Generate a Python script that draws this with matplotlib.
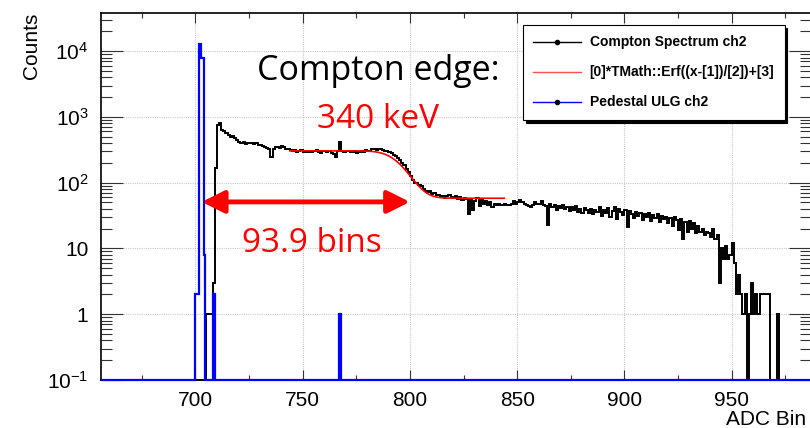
import math
import numpy as np
import matplotlib
matplotlib.use('Agg')
import matplotlib.pyplot as plt
from matplotlib.lines import Line2D
from matplotlib.ticker import FixedLocator, MultipleLocator, LogLocator, NullFormatter

plt.rcParams['font.family'] = ['Liberation Sans', 'DejaVu Sans']

# histogram range (ADC bins)
hist_range = (656, 987)

# Compton Spectrum ch2: counts per ADC bin, first bin = 705
compton_first_bin = 705
compton_counts = [
    1, 1, 1, 3, 170, 760, 800, 640, 600, 560,
    530, 500, 510, 470, 450, 420, 400, 410, 390, 400,
    395, 405, 390, 400, 380, 370, 360, 350, 340, 330,
    245, 330, 350, 345, 340, 355, 350, 320, 330, 310,
    300, 310, 295, 300, 310, 290, 300, 295, 305, 290,
    300, 310, 295, 280, 300, 305, 290, 300, 285, 270,
    250, 300, 410, 300, 295, 305, 300, 290, 295, 300,
    285, 290, 300, 295, 310, 300, 305, 330, 320, 310,
    325, 320, 315, 305, 300, 290, 280, 265, 255, 240,
    225, 200, 185, 160, 145, 125, 110, 100, 98, 92,
    88, 80, 76, 72, 75, 68, 70, 64, 66, 60,
    63, 58, 62, 65, 60, 58, 62, 57, 60, 55,
    58, 56, 33, 55, 38, 52, 58, 44, 56, 48,
    52, 45, 50, 42, 48, 46, 47, 45, 46, 48,
    45, 46, 47, 52, 48, 50, 54, 50, 47, 45,
    44, 42, 45, 50, 48, 47, 52, 46, 44, 23,
    47, 42, 45, 39, 44, 41, 46, 40, 43, 37,
    42, 39, 44, 36, 40, 34, 41, 38, 35, 40,
    33, 38, 36, 42, 31, 39, 35, 41, 30, 37,
    43, 28, 40, 36, 32, 38, 21, 37, 33, 29,
    36, 31, 35, 27, 33, 30, 34, 26, 32, 29,
    33, 25, 31, 28, 30, 24, 29, 22, 30, 27,
    19, 28, 14, 25, 18, 26, 20, 24, 17, 22,
    18, 20, 16, 18, 17, 15, 20, 14, 16, 3,
    10, 7, 11, 7, 8, 12, 6, 2, 4, 2,
    1, 2, 0, 1, 3, 1, 2, 1, 2, 2,
    2, 2, 2, 0, 0, 0, 1,
]

# Pedestal ULG ch2 (variable bin edges)
pedestal_edges = [hist_range[0], 700, 701.5, 702.8, 703.9, 704.5, 708.1, 709.0, 766.9, 768.1, hist_range[1]]
pedestal_counts = [0, 2, 13000, 7900, 8, 0, 2, 0, 1, 0]

# fit [0]*TMath::Erf((x-[1])/[2])+[3]
fit_par = [-123.5, 796.0, 10.0, 181.5]
fit_range = (744, 844)

x_ticks = [700, 750, 800, 850, 900, 950]
y_ticks = [0.1, 1, 10, 100, 1000, 10000]
y_tick_labels = [r'$\mathregular{10^{-1}}$', '1', '10',
                 r'$\mathregular{10^{2}}$', r'$\mathregular{10^{3}}$', r'$\mathregular{10^{4}}$']
y_range = (0.1, 3.8e4)

legend_labels = ['Compton Spectrum ch2', '[0]*TMath::Erf((x-[1])/[2])+[3]', 'Pedestal ULG ch2']

fig = plt.figure(figsize=(8.1, 4.28), dpi=100)
ax = fig.add_axes([101/810, 48/428, 710/810, 367/428])

# histograms (empty bins sit on the axis floor as in ROOT)
c_edges = np.concatenate([[hist_range[0]],
                          np.arange(compton_first_bin, compton_first_bin + len(compton_counts) + 1),
                          [hist_range[1]]])
c_vals = np.concatenate([[0], compton_counts, [0]]).astype(float)
ax.stairs(np.maximum(c_vals, y_range[0]), c_edges, color='black', lw=1.4,
          baseline=None, clip_on=False, zorder=3)

xf = np.linspace(fit_range[0], fit_range[1], 300)
yf = [fit_par[0] * math.erf((v - fit_par[1]) / fit_par[2]) + fit_par[3] for v in xf]
ax.plot(xf, yf, color='red', lw=1.2, zorder=4)

p_vals = np.array(pedestal_counts, dtype=float)
ax.stairs(np.maximum(p_vals, y_range[0]), pedestal_edges, color='blue', lw=1.6,
          baseline=None, clip_on=False, zorder=5)

ax.set_yscale('log')
ax.set_xlim(hist_range)
ax.set_ylim(y_range)

ax.xaxis.set_major_locator(FixedLocator(x_ticks))
ax.xaxis.set_minor_locator(MultipleLocator(25))
ax.yaxis.set_major_locator(FixedLocator(y_ticks))
ax.set_yticklabels(y_tick_labels)
ax.yaxis.set_minor_locator(LogLocator(base=10, subs=np.arange(2, 10)))
ax.yaxis.set_minor_formatter(NullFormatter())

ax.tick_params(axis='both', which='both', direction='in', top=True, right=True,
               labelsize=15, width=0.8, color='#333333')
ax.tick_params(axis='x', which='major', length=7, pad=8)
ax.tick_params(axis='x', which='minor', length=3.5)
ax.tick_params(axis='y', which='major', length=16, pad=9)
ax.tick_params(axis='y', which='minor', length=8)

ax.grid(True, which='major', color='#c8c8c8', linestyle=(0, (1, 1)), lw=0.8)
for s in ax.spines.values():
    s.set_linewidth(1.2)

ax.set_ylabel('Counts', fontsize=15, loc='top')
ax.yaxis.set_label_coords(-(101 - 41) / 710, 1.0)
fig.text(806 / 810, 1 - 425 / 428, 'ADC Bin', fontsize=15, ha='right', va='baseline')

handles = [
    Line2D([], [], color='black', lw=1, marker='o', markersize=3),
    Line2D([], [], color='#ff5050', lw=1),
    Line2D([], [], color='blue', lw=1, marker='o', markersize=3,
           markerfacecolor='black', markeredgecolor='black'),
]
leg = ax.legend(handles, legend_labels, loc='upper left',
                bbox_to_anchor=((523 - 101) / 710, (380 - 25) / 367),
                prop={'weight': 'bold', 'size': 10}, frameon=True, fancybox=False,
                shadow={'color': 'black', 'alpha': 1}, edgecolor='black',
                framealpha=1, handlelength=3.4, handletextpad=0.65,
                labelspacing=1.15, borderpad=0.75, borderaxespad=0)
leg.get_frame().set_linewidth(0.8)
leg.set_zorder(10)

# annotations
ann_font = ['Open Sans', 'DejaVu Sans']
fig.text(378 / 810, 1 - 80 / 428, 'Compton edge:', fontsize=24.5, family=ann_font,
         ha='center', va='baseline', color='black')
fig.text(378 / 810, 1 - 128 / 428, '340 keV', fontsize=24, family=ann_font,
         ha='center', va='baseline', color='red')
fig.text(312 / 810, 1 - 252 / 428, '93.9 bins', fontsize=24, family=ann_font,
         ha='center', va='baseline', color='red')
ax.annotate('', xy=(703.0, 51), xytext=(800.0, 51),
            arrowprops=dict(arrowstyle='<|-|>,head_length=0.4,head_width=0.2',
                            color='red', lw=3.5, mutation_scale=34,
                            shrinkA=0, shrinkB=0), zorder=6)

fig.savefig('out.png', dpi=100)
